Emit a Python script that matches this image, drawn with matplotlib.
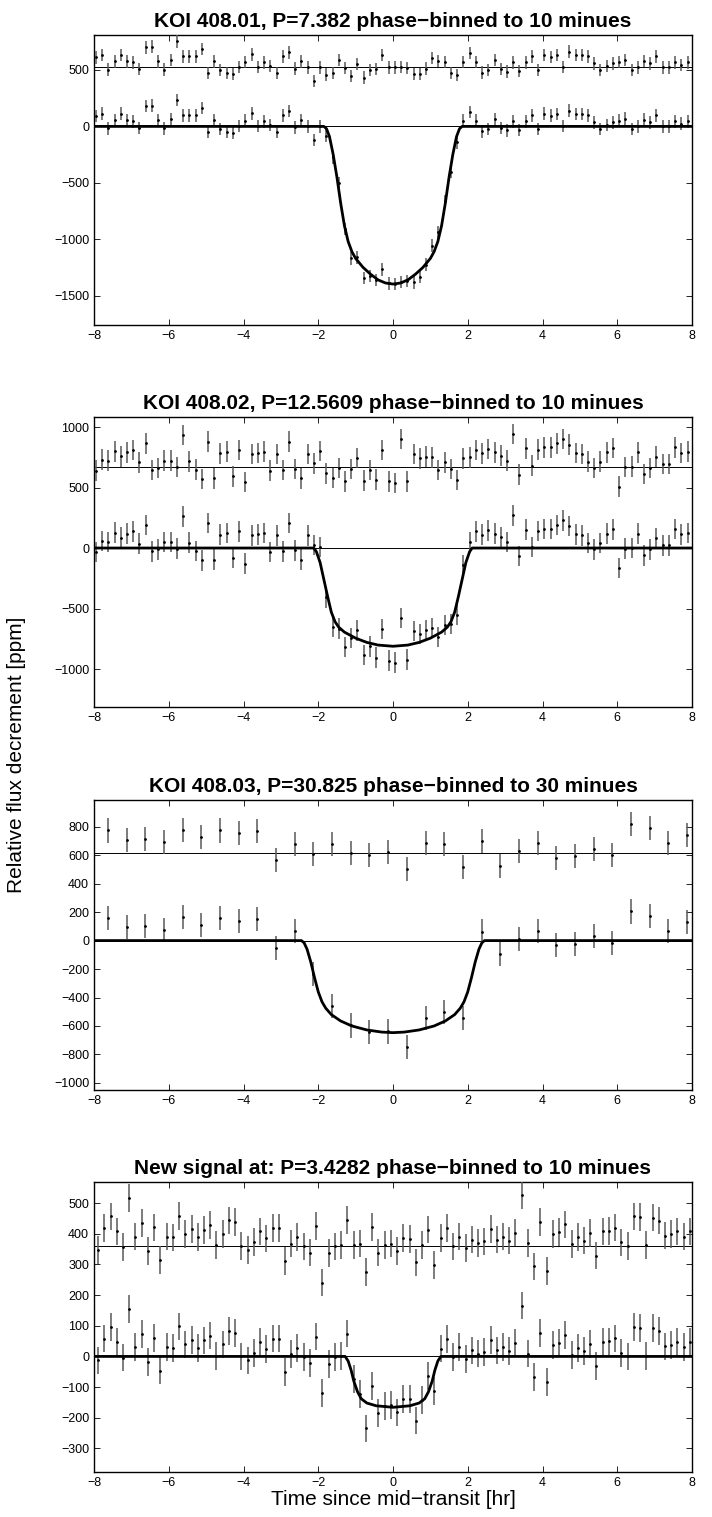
import matplotlib

matplotlib.use("Agg")
import matplotlib.pyplot as plt
import numpy as np

# ---- data --------------------------------------------------------------------------
# residuals (ppm) in time order; flux = residual + model, top row = residual + offset

titles = [
    "KOI 408.01, P=7.382 phase\u2212binned to 10 minues",
    "KOI 408.02, P=12.5609 phase\u2212binned to 10 minues",
    "KOI 408.03, P=30.825 phase\u2212binned to 30 minues",
    "New signal at: P=3.4282 phase\u2212binned to 10 minues",
]

# first bin centre [hr] and bin width [hr]
bin_start = [-7.95, -7.95, -7.63, -7.89]
bin_width = [10 / 60, 10 / 60, 30 / 60, 10 / 60]

offsets = [522, 673, 615, 361]
errors = [55, 85, 85, 45]

resid_1 = [
    90, 113, -18, 54, 113, 54, 45, -15, 179, 185,
    54, -18, 66, 232, 98, 98, 98, 164, -51, 54,
    -21, -51, -60, 6, 51, 116, 6, 45, 15, -51,
    98, 134, -9, 54, 0, -119, 0, -63, -51, 66,
    -6, -75, 30, -89, -21, -15, 110, 0, 0, 6,
    -6, -60, -60, -9, 83, 57, 51, -51, -66, 51,
    128, 51, -45, -21, 66, -15, -36, 45, -30, 45,
    98, -21, 113, 95, 110, 6, 140, 110, 110, 98,
    36, -24, 15, 36, 51, 69, -24, 0, 60, 36,
    98, 0, 0, 45, 24, 45,
]
resid_2 = [
    -33, 58, 49, 126, 85, 118, 137, 36, 192, -27,
    -11, 49, 49, -5, 261, 44, -25, -102, 206, -96,
    110, 124, -80, 137, -129, 104, 113, 124, -33, 104,
    -27, 206, -19, -96, 104, 27, 130, -55, -93, -11,
    -121, -19, 71, -115, -27, -107, 137, -121, -137, 228,
    -121, 104, 69, 82, 77, -27, 36, -19, -110, 69,
    77, 137, 110, 146, 118, 91, 49, 269, -66, 151,
    8, 140, 159, 159, 192, 228, 181, 113, 104, 41,
    -11, 41, 118, 154, -165, -5, 0, 118, -60, -11,
    82, 22, 22, 159, 113, 124,
]
resid_3 = [
    159, 93, 100, 77, 163, 112, 159, 140, 154, -51,
    65, -5, 63, 0, -12, 7, -110, 70, 65, -98,
    84, -93, 12, 70, -33, -23, 30, -16, 205, 175,
    70, 128,
]
resid_4 = [
    -13, 58, 96, 47, -4, 155, 30, 74, -18, 60,
    -46, 30, 27, 98, 39, 54, 28, 52, 68, 2,
    39, 83, 77, 0, -13, 12, 47, 24, 58, 58,
    -50, 7, 28, -2, -22, 65, -120, -24, -2, 2,
    85, 3, 7, -85, 61, -22, 2, 7, -18, 25,
    22, -54, 2, 53, -62, 26, 57, -2, 30, -8,
    20, 9, 14, 54, 20, 30, 17, 43, 166, 9,
    -67, 77, -83, 38, 45, 70, 5, 28, 17, 41,
    -32, 47, 49, 59, 11, 0, 96, 93, 2, 92,
    82, 33, 38, 47, 30, 47,
]
residuals = [resid_1, resid_2, resid_3, resid_4]

# transit model, first half (t <= 0); the curve is mirrored about mid-transit
model_t_1 = [-8, -1.85, -1.78, -1.7, -1.6, -1.5, -1.4, -1.3, -1.2, -1.1, -1.0, -0.8, -0.6, -0.4, -0.2, 0]
model_y_1 = [0, 0, -20, -90, -250, -450, -680, -880, -1020, -1110, -1170, -1250, -1310, -1360, -1388, -1397]
model_t_2 = [-8, -2.12, -2.05, -1.95, -1.85, -1.75, -1.65, -1.55, -1.45, -1.3, -1.0, -0.7, -0.4, 0]
model_y_2 = [0, 0, -30, -120, -260, -400, -530, -610, -655, -695, -745, -780, -802, -812]
model_t_3 = [-8, -2.45, -2.38, -2.3, -2.2, -2.1, -2.0, -1.9, -1.8, -1.65, -1.4, -1.1, -0.7, -0.3, 0]
model_y_3 = [0, 0, -15, -60, -150, -260, -360, -430, -475, -520, -565, -600, -628, -643, -647]
model_t_4 = [-8, -1.28, -1.2, -1.12, -1.05, -0.95, -0.85, -0.7, -0.45, 0]
model_y_4 = [0, 0, -15, -45, -80, -115, -138, -152, -161, -166]
models = [(model_t_1, model_y_1), (model_t_2, model_y_2), (model_t_3, model_y_3), (model_t_4, model_y_4)]

y_limits = [(-1760, 810), (-1314, 1083), (-1050, 988), (-377, 569)]
y_ticks = [
    [-1500, -1000, -500, 0, 500],
    [-1000, -500, 0, 500, 1000],
    [-1000, -800, -600, -400, -200, 0, 200, 400, 600, 800],
    [-300, -200, -100, 0, 100, 200, 300, 400, 500],
]
x_ticks = [-8, -6, -4, -2, 0, 2, 4, 6, 8]

# ---- layout (figure pixels) ---------------------------------------------------------
W, H = 712, 1517
AX_LEFT, AX_RIGHT = 94, 692
AX_TOPS = [35, 417, 800, 1182]
AX_HEIGHT = 290

plt.rcParams["font.family"] = ["Liberation Sans", "DejaVu Sans"]


def mirrored(half_t, half_y):
    t = np.asarray(half_t, float)
    y = np.asarray(half_y, float)
    return np.concatenate([t, -t[::-1][1:]]), np.concatenate([y, y[::-1][1:]])


def plot_panel(ax, i):
    resid = np.asarray(residuals[i], float)
    t = bin_start[i] + bin_width[i] * np.arange(len(resid))
    mt, my = mirrored(*models[i])
    flux = resid + np.interp(t, mt, my)

    ax.axhline(0, color="k", lw=0.7, zorder=1)
    ax.axhline(offsets[i], color="k", lw=0.7, zorder=1)
    ax.plot(mt, my, color="k", lw=2.0, zorder=4)
    for yy in (flux, resid + offsets[i]):
        ax.errorbar(
            t, yy, yerr=errors[i], fmt=".", color="k", ms=2.0, ecolor="0.35",
            elinewidth=1.1, capsize=0, zorder=3,
        )

    ax.set_xlim(-8, 8)
    ax.set_ylim(*y_limits[i])
    ax.set_xticks(x_ticks)
    ax.set_yticks(y_ticks[i])
    ax.tick_params(direction="in", top=True, right=True, labelsize=9, length=4, width=0.6)
    for sp in ax.spines.values():
        sp.set_linewidth(1.0)
    ax.set_title(titles[i], fontsize=15, fontweight="bold", pad=6)


def main():
    fig = plt.figure(figsize=(W / 100, H / 100), dpi=100)
    axs = []
    for i, top in enumerate(AX_TOPS):
        rect = [
            AX_LEFT / W,
            1 - (top + AX_HEIGHT) / H,
            (AX_RIGHT - AX_LEFT) / W,
            AX_HEIGHT / H,
        ]
        ax = fig.add_axes(rect)
        plot_panel(ax, i)
        axs.append(ax)
    axs[-1].set_xlabel("Time since mid\u2212transit [hr]", fontsize=15, labelpad=1)
    fig.text(17 / W, 1 - 755 / H, "Relative flux decrement [ppm]", rotation=90,
             ha="center", va="center", fontsize=15)
    fig.savefig("out.png", dpi=100)


if __name__ == "__main__":
    main()
